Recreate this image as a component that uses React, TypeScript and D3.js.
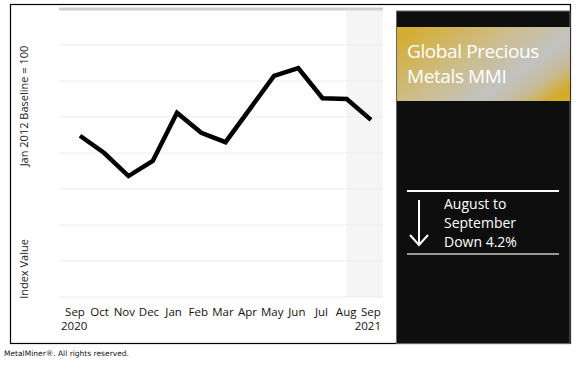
import React, { useEffect, useRef } from "react";
import * as d3 from "d3";

// data ---------------------------------------------------
const months = ["Sep", "Oct", "Nov", "Dec", "Jan", "Feb", "Mar", "Apr", "May", "Jun", "Jul", "Aug", "Sep"];
const years = ["2020", "", "", "", "", "", "", "", "", "", "", "", "2021"];
const mmiValues = [62.4, 60.0, 56.8, 58.9, 65.6, 62.8, 61.5, 66.1, 70.7, 71.8, 67.6, 67.5, 64.6];
const gridValues = [40, 45, 50, 55, 60, 65, 70, 75];
const panelTitle = ["Global Precious", "Metals MMI"];
const panelNote = ["August to", "September", "Down 4.2%"];

const App = () => {
    const ref = useRef<SVGSVGElement>(null);
    const [width, height] = [580, 369];

    useEffect(() => {
        const svg = d3.select(ref.current);
        svg.selectAll("*").remove();
        const font = "'Open Sans', sans-serif";

        // gold gradient for the title box
        const defs = svg.append("defs");
        const grad = defs.append("linearGradient")
            .attr("id", "gold")
            .attr("x1", "0").attr("y1", "0.2")
            .attr("x2", "1").attr("y2", "0.8");
        [["0", "#d3ae35"], ["0.4", "#cdbd8a"], ["0.7", "#c2c2c2"], ["0.86", "#c6bb98"], ["1", "#d5ab2c"]]
            .forEach(([o, c]) => grad.append("stop").attr("offset", o).attr("stop-color", c));

        // outer frame
        svg.append("rect")
            .attr("x", 10.5).attr("y", 4.5)
            .attr("width", 560).attr("height", 339)
            .attr("fill", "#fff").attr("stroke", "#000").attr("stroke-width", 1.2);

        // scales
        const x = d3.scalePoint<number>()
            .domain(d3.range(months.length))
            .range([80, 371]);
        const y = d3.scaleLinear()
            .domain([40, 80])
            .range([297, 9]);

        const plot = svg.append("g");

        // shaded current month
        plot.append("rect")
            .attr("x", 346).attr("y", y(80) + 2)
            .attr("width", 383 - 346).attr("height", y(40) - y(80) - 2)
            .attr("fill", "#f5f5f5");

        // grid lines
        plot.selectAll(".grid")
            .data(gridValues)
            .join("line")
            .attr("x1", 59).attr("x2", 383)
            .attr("y1", (d) => y(d)).attr("y2", (d) => y(d))
            .attr("stroke", "#ececec").attr("stroke-width", 1);

        // top line
        plot.append("line")
            .attr("x1", 59).attr("x2", 383)
            .attr("y1", y(80)).attr("y2", y(80))
            .attr("stroke", "#cfcfcf").attr("stroke-width", 3);

        // the series
        const line = d3.line<number>()
            .x((d, i) => x(i) as number)
            .y((d) => y(d));
        plot.append("path")
            .datum(mmiValues)
            .attr("d", line)
            .attr("fill", "none")
            .attr("stroke", "#000")
            .attr("stroke-width", 4.5)
            .attr("stroke-linejoin", "miter");

        // x labels
        const xl = plot.append("g").attr("font-family", font).attr("font-size", 11.5).attr("fill", "#111");
        xl.selectAll(".m")
            .data(months)
            .join("text")
            .attr("x", (d, i) => (x(i) as number) - 5 + i * 0.4)
            .attr("y", 316)
            .attr("text-anchor", "middle")
            .text((d) => d);
        xl.selectAll(".yr")
            .data(years.map((d, i) => ({ d, i })).filter((o) => o.d))
            .join("text")
            .attr("x", (o) => (o.i === 0 ? 61 : 381))
            .attr("y", 330)
            .attr("text-anchor", (o) => (o.i === 0 ? "start" : "end"))
            .text((o) => o.d);

        // y titles
        const yt = plot.append("g").attr("font-family", font).attr("font-size", 11).attr("fill", "#222");
        yt.append("text")
            .attr("transform", "translate(28,106) rotate(-90)")
            .attr("text-anchor", "middle")
            .text("Jan 2012 Baseline = 100");
        yt.append("text")
            .attr("transform", "translate(28,269) rotate(-90)")
            .attr("text-anchor", "middle")
            .text("Index Value");

        // right panel
        const panel = svg.append("g");
        panel.append("rect")
            .attr("x", 396.5).attr("y", 11)
            .attr("width", 173.5).attr("height", 332.5)
            .attr("fill", "#0e0e0e").attr("stroke", "#666").attr("stroke-width", 1);
        panel.append("rect")
            .attr("x", 397).attr("y", 27)
            .attr("width", 173).attr("height", 74)
            .attr("fill", "url(#gold)");
        panel.selectAll(".t")
            .data(panelTitle)
            .join("text")
            .attr("x", 407)
            .attr("y", (d, i) => 58 + i * 25)
            .attr("font-family", font)
            .attr("font-size", 19)
            .attr("letter-spacing", -0.4)
            .attr("fill", "#fff")
            .text((d) => d);

        panel.append("line")
            .attr("x1", 407).attr("x2", 559)
            .attr("y1", 191).attr("y2", 191)
            .attr("stroke", "#fff").attr("stroke-width", 2);
        panel.append("line")
            .attr("x1", 407).attr("x2", 559)
            .attr("y1", 254).attr("y2", 254)
            .attr("stroke", "#999").attr("stroke-width", 2);

        // down arrow
        panel.append("path")
            .attr("d", "M419,200 L419,245 M410,235 L419,245 L428,235")
            .attr("fill", "none").attr("stroke", "#fff").attr("stroke-width", 2);

        panel.selectAll(".n")
            .data(panelNote)
            .join("text")
            .attr("x", 444)
            .attr("y", (d, i) => 209 + i * 19)
            .attr("font-family", font)
            .attr("font-size", 14)
            .attr("fill", "#fff")
            .text((d) => d);

        // footer
        svg.append("text")
            .attr("x", 4).attr("y", 356)
            .attr("font-family", "Verdana, 'DejaVu Sans', sans-serif")
            .attr("font-size", 7.5)
            .attr("fill", "#111")
            .text("MetalMiner®. All rights reserved.");
    }, []);

    return (
        <svg
            ref={ref}
            width={width}
            height={height}
            style={{ position: "absolute", left: 0, top: 0, background: "#fff" }}
        />
    );
};

export default App;
